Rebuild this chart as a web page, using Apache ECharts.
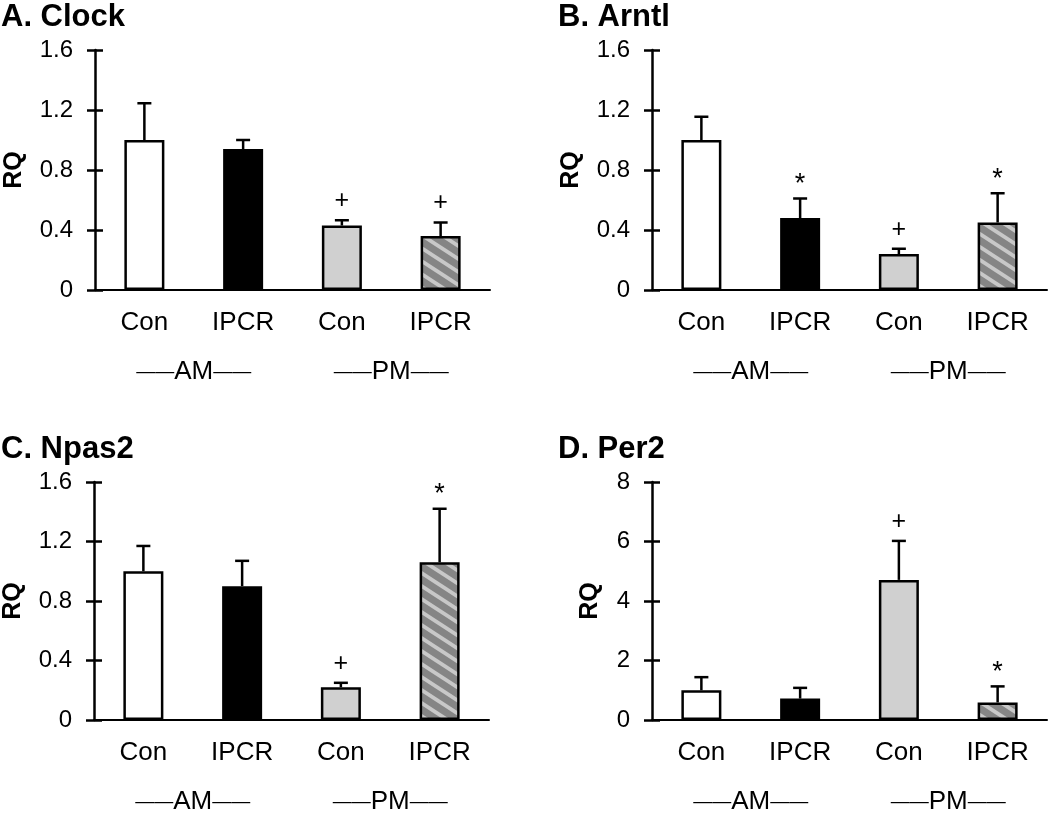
<!DOCTYPE html>
<html><head><meta charset="utf-8">
<script src="https://cdn.jsdelivr.net/npm/echarts@6/dist/echarts.min.js"></script>
<style>html,body{margin:0;padding:0;background:#fff}#chart{width:1050px;height:815px}</style>
</head><body><div id="chart"></div>
<script>
// ---- data ----
const categories = ['Con', 'IPCR', 'Con', 'IPCR'];
const groupLabels = ['AM', 'PM'];
const yTicksRQ = [0, 0.4, 0.8, 1.2, 1.6];
const yTicksPer2 = [0, 2, 4, 6, 8];
const titles = ['A. Clock', 'B. Arntl', 'C. Npas2', 'D. Per2'];

const clockMean = [1.00, 0.94, 0.43, 0.36];
const clockErr  = [0.245, 0.06, 0.035, 0.09];
const clockMark = ['', '', '+', '+'];

const arntlMean = [1.00, 0.48, 0.24, 0.45];
const arntlErr  = [0.155, 0.13, 0.035, 0.195];
const arntlMark = ['', '*', '+', '*'];

const npas2Mean = [1.00, 0.90, 0.22, 1.06];
const npas2Err  = [0.17, 0.17, 0.03, 0.36];
const npas2Mark = ['', '', '+', '*'];

const per2Mean = [1.00, 0.72, 4.71, 0.59];
const per2Err  = [0.44, 0.36, 1.31, 0.54];
const per2Mark = ['', '', '+', '*'];

// ---- styling / layout ----
const FONT = '"Liberation Sans", Arial, Helvetica, sans-serif';
function makeHatch() {
  const W = 20, H = 13;
  const c = document.createElement('canvas');
  c.width = W; c.height = H;
  const g = c.getContext('2d');
  g.fillStyle = '#858585'; g.fillRect(0, 0, W, H);
  g.strokeStyle = '#c8c8c8'; g.lineWidth = 3.8;
  for (let k = -1; k <= 1; k++) {
    g.beginPath();
    g.moveTo(-W, k * H - H);
    g.lineTo(2 * W, k * H + 2 * H);
    g.stroke();
  }
  return c;
}
const fills = ['#ffffff', '#000000', '#d0d0d0', { image: makeHatch(), repeat: 'repeat' }];

const panels = [
  { title: titles[0], mean: clockMean, err: clockErr, mark: clockMark, ticks: yTicksRQ },
  { title: titles[1], mean: arntlMean, err: arntlErr, mark: arntlMark, ticks: yTicksRQ },
  { title: titles[2], mean: npas2Mean, err: npas2Err, mark: npas2Mark, ticks: yTicksRQ },
  { title: titles[3], mean: per2Mean, err: per2Err, mark: per2Mark, ticks: yTicksPer2 }
];
const grids = [
  { left: 95, top: 50, width: 395, height: 240 },
  { left: 652, top: 50, width: 395, height: 240 },
  { left: 94, top: 482, width: 395, height: 241 },
  { left: 652, top: 482, width: 395, height: 241 }
];
const titlePos = [{ left: 1, top: 2 }, { left: 558, top: 2 }, { left: 1, top: 434 }, { left: 558, top: 434 }];
const nameGaps = [68, 68, 68, 49];

const option = {
  backgroundColor: '#ffffff',
  animation: false,
  title: [], grid: [], xAxis: [], yAxis: [], series: []
};

panels.forEach((p, i) => {
  const t = p.ticks;
  const min = t[0], max = t[t.length - 1], interval = t[1] - t[0];
  option.title.push({
    text: p.title, left: titlePos[i].left, top: titlePos[i].top, padding: 0,
    textStyle: { fontSize: 31, fontWeight: 'bold', color: '#000', fontFamily: FONT }
  });
  option.grid.push(Object.assign({ containLabel: false }, grids[i]));
  option.xAxis.push({
    gridIndex: i, type: 'category', data: categories,
    axisLine: { show: true, onZero: false, lineStyle: { color: '#000', width: 2 } },
    axisTick: { show: false },
    axisLabel: { color: '#000', fontSize: 26, fontFamily: FONT, margin: 20, interval: 0 }
  });
  option.xAxis.push({
    gridIndex: i, type: 'category', data: groupLabels, position: 'bottom',
    axisLine: { show: false }, axisTick: { show: false }, splitLine: { show: false },
    axisLabel: {
      margin: 69, interval: 0,
      formatter: v => '{d|——}{t|' + v + '}{d|——}',
      rich: {
        d: { fontSize: 19, color: '#000', fontFamily: FONT, verticalAlign: 'middle' },
        t: { fontSize: 26, color: '#000', fontFamily: FONT, verticalAlign: 'middle' }
      }
    }
  });
  option.yAxis.push({
    gridIndex: i, type: 'value', min, max, interval,
    axisLine: { show: true, lineStyle: { color: '#000', width: 2.5 } },
    axisTick: { show: true, length: 8, lineStyle: { color: '#000', width: 2.5 } },
    splitLine: { show: false },
    axisLabel: { color: '#000', fontSize: 24, fontFamily: FONT, margin: 22 },
    name: 'RQ', nameLocation: 'middle', nameGap: nameGaps[i],
    nameTextStyle: { fontSize: 25, fontWeight: 'bold', color: '#000', fontFamily: FONT }
  });
  option.yAxis.push({
    gridIndex: i, type: 'value', min, max, interval, position: 'left',
    axisLine: { show: false },
    axisTick: { show: true, inside: true, length: 8, lineStyle: { color: '#000', width: 2.5 } },
    splitLine: { show: false }, axisLabel: { show: false }
  });
  option.series.push({
    type: 'bar', xAxisIndex: 2 * i, yAxisIndex: 2 * i, barWidth: 40, silent: true,
    itemStyle: { borderColor: '#000', borderWidth: 2.5 },
    data: p.mean.map((v, j) => ({ value: v, itemStyle: { color: fills[j] } }))
  });
  option.series.push({
    type: 'custom', xAxisIndex: 2 * i, yAxisIndex: 2 * i, silent: true, z: 5,
    data: p.mean.map((v, j) => [j, v, v + p.err[j]]),
    renderItem: (params, api) => {
      const j = api.value(0);
      const base = api.coord([j, api.value(1)]);
      const top = api.coord([j, api.value(2)]);
      const children = [
        { type: 'line', shape: { x1: base[0], y1: base[1], x2: top[0], y2: top[1] }, style: { stroke: '#000', lineWidth: 2.5 } },
        { type: 'line', shape: { x1: top[0] - 7, y1: top[1], x2: top[0] + 7, y2: top[1] }, style: { stroke: '#000', lineWidth: 2.5 } }
      ];
      const m = p.mark[params.dataIndex];
      if (m) {
        children.push({
          type: 'text',
          style: {
            text: m, x: top[0], y: top[1] - (m === '*' ? 14 : 19),
            align: 'center', verticalAlign: 'middle',
            fontSize: m === '*' ? 27 : 25, fontFamily: FONT, fill: '#000'
          }
        });
      }
      return { type: 'group', children };
    }
  });
});

const chart = echarts.init(document.getElementById('chart'), null, { renderer: 'canvas' });
chart.setOption(option);
</script>
</body></html>
